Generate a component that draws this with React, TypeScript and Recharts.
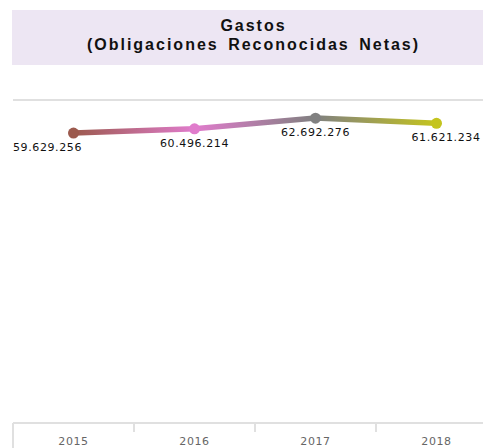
import React from 'react';
import { LineChart, Line, XAxis, YAxis, ReferenceLine, LabelList } from 'recharts';

const years = ['2015', '2016', '2017', '2018'];
const gastos = [59629256, 60496214, 62692276, 61621234];
const pointColors = ['#9c5a4e', '#e07ccc', '#808080', '#c4c41e'];

const data = years.map((year, i) => ({ year, gastos: gastos[i] }));

const fmt = (v: number) => String(Math.round(v)).replace(/\B(?=(\d{3})+(?!\d))/g, '.');

const GRID = '#e0e0e0';
const BAND = 121;
const FONT = "'DejaVu Sans', Verdana, sans-serif";

// tick marks sit between the categories, label in the middle
const YearTick = (props: any) => {
  const { x, y, payload, index } = props;
  const left = x - BAND / 2;
  const axisY = y - 8;
  return (
    <g>
      <line x1={left} y1={axisY} x2={left} y2={index === 0 ? axisY + 40 : axisY + 9} stroke={GRID} strokeWidth={2} />
      <text x={x} y={axisY + 22} textAnchor="middle" fontSize={11} letterSpacing={0.6} fill="#666" fontFamily={FONT}>
        {payload.value}
      </text>
    </g>
  );
};

const ValueLabel = (props: any) => {
  const { x, y, value, index } = props;
  let anchor: 'start' | 'middle' | 'end' = 'middle';
  let tx = x;
  if (index === 0) {
    anchor = 'start';
    tx = x - BAND / 2;
  } else if (index === years.length - 1) {
    // keep the last label inside the visible area
    anchor = 'end';
    tx = x + 44;
  }
  return (
    <text x={tx} y={y + 18} textAnchor={anchor} fontSize={11} letterSpacing={0.6} fill="#111" fontFamily={FONT}>
      {fmt(value)}
    </text>
  );
};

const Dot = (props: any) => {
  const { cx, cy, index } = props;
  return <circle key={`dot-${index}`} cx={cx} cy={cy} r={5.5} fill={pointColors[index]} />;
};

export default function App() {
  return (
    <div style={{ position: 'fixed', left: 0, top: 0, width: 483, height: 448, overflow: 'hidden', background: '#fff' }}>
      <div
        style={{
          position: 'absolute',
          left: 12,
          top: 10,
          width: 483,
          height: 55,
          boxSizing: 'border-box',
          paddingBottom: 5,
          background: '#ede6f3',
          display: 'flex',
          flexDirection: 'column',
          justifyContent: 'center',
          alignItems: 'center',
          fontFamily: "'Liberation Sans', Arial, sans-serif",
          fontWeight: 'bold',
          fontSize: 16,
          letterSpacing: 2,
          wordSpacing: 3,
          lineHeight: '19px',
          color: '#111',
          whiteSpace: 'nowrap',
        }}
      >
        <div>Gastos</div>
        <div>(Obligaciones Reconocidas Netas)</div>
      </div>
      <div style={{ position: 'absolute', left: 0, top: 0 }}>
        <LineChart width={500} height={453} data={data} margin={{ top: 68, right: 3, bottom: 0, left: 13 }}>
          <defs>
            <linearGradient id="lineGrad" x1="0" y1="0" x2="1" y2="0">
              <stop offset="0" stopColor={pointColors[0]} />
              <stop offset="0.333" stopColor={pointColors[1]} />
              <stop offset="0.667" stopColor={pointColors[2]} />
              <stop offset="1" stopColor={pointColors[3]} />
            </linearGradient>
          </defs>
          <XAxis
            dataKey="year"
            height={30}
            padding={{ left: BAND / 2, right: BAND / 2 }}
            axisLine={{ stroke: GRID, strokeWidth: 2 }}
            tickLine={false}
            tick={<YearTick />}
            interval={0}
          />
          <YAxis
            width={0}
            domain={[0, 73000000]}
            tick={false}
            tickLine={false}
            axisLine={{ stroke: GRID, strokeWidth: 2 }}
          />
          <ReferenceLine y={66400000} stroke={GRID} strokeWidth={2} />
          <Line
            type="linear"
            dataKey="gastos"
            stroke="url(#lineGrad)"
            strokeWidth={5.5}
            dot={<Dot />}
            activeDot={false}
            isAnimationActive={false}
          >
            <LabelList dataKey="gastos" content={<ValueLabel />} />
          </Line>
        </LineChart>
      </div>
    </div>
  );
}
